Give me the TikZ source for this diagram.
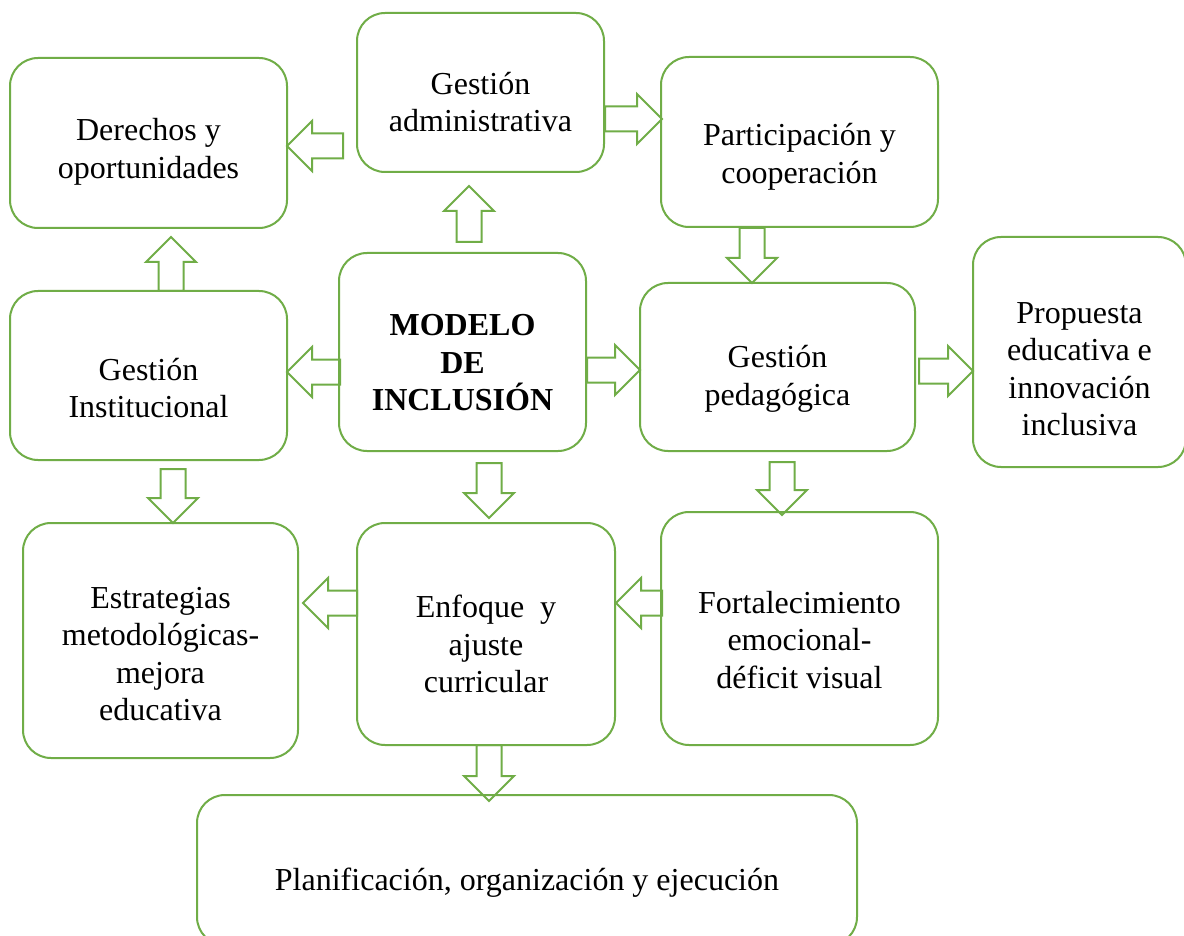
\documentclass[tikz,border=0pt]{standalone}
\usepackage{fontspec}
\setmainfont{Liberation Serif}
\usetikzlibrary{calc}
\definecolor{boxgreen}{RGB}{112,173,71}
\tikzset{
  box/.style={draw=boxgreen, line width=2pt, rounded corners=28pt, inner sep=0pt, rectangle},
  lbl/.style={font=\fontsize{32}{37.5}\selectfont, align=center, inner sep=0pt, text=black},
  barrow/.style={draw=boxgreen, line width=2pt, line join=miter},
}
\newcommand{\mybox}[7]{%
  \node[box, minimum width={#4-#2}, minimum height={#5-#3}] (#1) at ({(#2+#4)/2},{(#3+#5)/2}) {};
  \node[lbl] (#1-t) at ({(#2+#4)/2},#6) {#7};}
\newcommand{\blk}[3]{%
  \coordinate (#1-s) at (#2); \coordinate (#1-e) at (#3);
  \coordinate (#1-h) at ($(#1-e)!25pt!(#1-s)$);
  \draw[barrow] ($(#1-s)!12.5pt!90:(#1-e)$) -- ($(#1-h)!12.5pt!-90:(#1-s)$) -- ($(#1-h)!25pt!-90:(#1-s)$) -- (#1-e) -- ($(#1-h)!25pt!90:(#1-s)$) -- ($(#1-h)!12.5pt!90:(#1-s)$) -- ($(#1-s)!12.5pt!-90:(#1-e)$) -- cycle;}
\begin{document}
\begin{tikzpicture}[x=1pt,y=-1pt]
\clip (0,0) rectangle (1184,936);
\fill[white] (0,0) rectangle (1184,936);
\mybox{der}{10}{58}{287}{228}{152}{Derechos y\\oportunidades}
\mybox{adm}{357}{13}{604}{172}{102}{Gestión\\administrativa}
\mybox{par}{661}{57}{938}{227}{157}{Participación y\\cooperación}
\mybox{pro}{973}{237}{1186}{467}{369}{Propuesta\\educativa e\\innovación\\inclusiva}
\mybox{ins}{10}{291}{287}{460}{388}{Gestión\\Institucional}
\mybox{mod}{339}{253}{586}{451}{363}{\bfseries MODELO\\\bfseries DE\\\bfseries INCLUSIÓN}
\mybox{ped}{640}{283}{915}{451}{379}{Gestión\\pedagógica}
\mybox{est}{23}{523}{298}{758}{654}{Estrategias\\metodológicas-\\mejora\\educativa}
\mybox{enf}{357}{523}{615}{745}{644}{Enfoque~ y\\ajuste\\curricular}
\mybox{fort}{661}{512}{938}{745}{640}{Fortalecimiento\\emocional-\\déficit visual}
\mybox{pla}{197}{795}{857}{945}{883}{Planificación, organización y ejecución}
\blk{a}{343,146}{287,146}
\blk{b}{469,242}{469,186}
\blk{c}{605,119}{662,119}
\blk{d}{752,228}{752,283}
\blk{e}{171,291}{171,237}
\blk{f}{340,372}{287,372}
\blk{g}{587,370}{640,370}
\blk{h}{919,371}{973,371}
\blk{i}{173,469}{173,523}
\blk{j}{489,463}{489,518}
\blk{k}{782,462}{782,515}
\blk{l}{357,603}{303,603}
\blk{m}{662,603}{616,603}
\blk{n}{489,745}{489,801}
\end{tikzpicture}
\end{document}
